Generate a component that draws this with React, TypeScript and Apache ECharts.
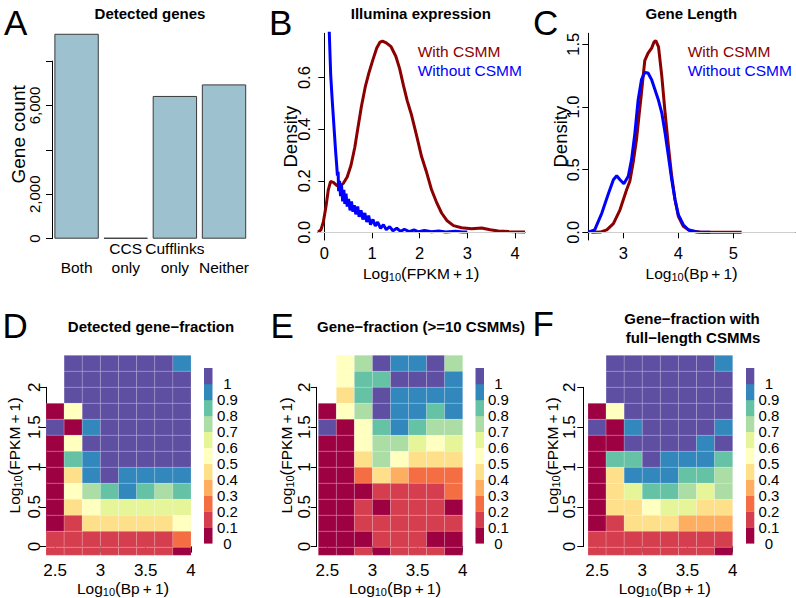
import React, { useEffect, useRef } from "react";
import * as echarts from "echarts";

const FONT = "'Liberation Sans', Arial, Helvetica, sans-serif";
const RED = "#8B0000";
const BLUE = "#0000FF";
const BAR_FILL = "#9DC1CF";
const SPECTRAL = ["#9E0142", "#D53E4F", "#F46D43", "#FDAE61", "#FEE08B", "#FFFFBF", "#E6F598", "#ABDDA4", "#66C2A5", "#3288BD", "#5E4FA2"];

// ---------- Panel A ----------
const A_CATEGORIES = ["Both", "CCS only", "Cufflinks only", "Neither"];
const A_AXIS_LABELS = ["\nBoth", "CCS\nonly", "Cufflinks\nonly", "\nNeither"];
const A_GENE_COUNTS = [9230, 40, 6430, 6950];
const A_Y_TICK_LABELS: Record<string, string> = { "0": "0", "2000": "2,000", "6000": "6,000" };

// ---------- Panel B (density of log10(FPKM+1)) ----------
const B_WITH_CSMM: [number, number][] = [
  [-0.13, 0.001], [-0.07, 0.01], [-0.02, 0.04], [0.035, 0.1], [0.084, 0.165], [0.13, 0.197], [0.19, 0.194],
  [0.26, 0.182], [0.33, 0.18], [0.4, 0.19], [0.48, 0.215], [0.56, 0.26], [0.64, 0.33], [0.7, 0.4], [0.78, 0.49],
  [0.86, 0.565], [0.93, 0.615], [1.02, 0.67], [1.1, 0.715], [1.17, 0.738], [1.22, 0.742], [1.3, 0.735],
  [1.4, 0.72], [1.5, 0.683], [1.58, 0.635], [1.66, 0.57], [1.74, 0.51], [1.83, 0.455], [1.94, 0.372],
  [2.04, 0.294], [2.15, 0.23], [2.25, 0.165], [2.36, 0.114], [2.46, 0.075], [2.57, 0.046], [2.71, 0.026],
  [2.88, 0.018], [3.09, 0.014], [3.3, 0.017], [3.48, 0.01], [3.65, 0.005], [3.86, 0.003], [4.21, 0.001],
];
const B_WITHOUT_CSMM: [number, number][] = [
  [0.1, 0.8], [0.134, 0.61], [0.168, 0.507], [0.21, 0.39], [0.235, 0.32], [0.26, 0.26], [0.275, 0.22],
  [0.29, 0.235], [0.3, 0.16], [0.32, 0.2], [0.34, 0.14], [0.36, 0.185], [0.385, 0.12], [0.41, 0.165],
  [0.43, 0.11], [0.455, 0.15], [0.48, 0.1], [0.51, 0.13], [0.54, 0.085], [0.57, 0.12], [0.6, 0.08],
  [0.63, 0.105], [0.66, 0.07], [0.7, 0.1], [0.73, 0.06], [0.77, 0.085], [0.81, 0.05], [0.85, 0.075],
  [0.89, 0.04], [0.93, 0.065], [0.97, 0.03], [1.02, 0.05], [1.07, 0.025], [1.12, 0.04], [1.18, 0.015],
  [1.24, 0.03], [1.3, 0.01], [1.37, 0.022], [1.44, 0.006], [1.52, 0.016], [1.6, 0.004], [1.68, 0.012],
  [1.78, 0.003], [1.88, 0.009], [1.98, 0.002], [2.1, 0.007], [2.25, 0.002], [2.4, 0.005], [2.55, 0.001],
  [2.75, 0.004], [2.9, 0.001], [3.0, 0.001],
];

// ---------- Panel C (density of log10(Bp+1)) ----------
const C_WITH_CSMM: [number, number][] = [
  [2.42, 0], [2.58, 0.002], [2.7, 0.02], [2.82, 0.07], [2.94, 0.18], [3.06, 0.34], [3.12, 0.41], [3.18, 0.56],
  [3.24, 0.74], [3.29, 0.95], [3.33, 1.11], [3.39, 1.37], [3.45, 1.43], [3.515, 1.47], [3.56, 1.52],
  [3.59, 1.53], [3.64, 1.48], [3.7, 1.245], [3.76, 0.95], [3.82, 0.686], [3.88, 0.447], [3.94, 0.26],
  [4.0, 0.128], [4.09, 0.048], [4.21, 0.013], [4.39, 0.002], [4.58, 0], [5.15, 0],
];
const C_WITHOUT_CSMM: [number, number][] = [
  [2.36, 0.002], [2.48, 0.02], [2.61, 0.154], [2.73, 0.31], [2.82, 0.42], [2.88, 0.452], [2.94, 0.42],
  [3.01, 0.388], [3.09, 0.447], [3.15, 0.58], [3.21, 0.79], [3.27, 1.058], [3.33, 1.218], [3.39, 1.276],
  [3.45, 1.271], [3.515, 1.218], [3.576, 1.138], [3.636, 1.058], [3.7, 0.952], [3.76, 0.79], [3.82, 0.606],
  [3.88, 0.42], [3.94, 0.26], [4.0, 0.141], [4.09, 0.061], [4.18, 0.021], [4.33, 0.003], [4.58, 0],
];

// ---------- Panels D/E/F (heatmaps) ----------
const COL_EDGES = [2.4, 2.6, 2.8, 3.0, 3.2, 3.4, 3.6, 3.8, 4.0]; // log10(Bp+1)
const ROW_EDGES = [-0.1, 0, 0.2, 0.4, 0.6, 0.8, 1.0, 1.2, 1.4, 1.6, 1.8, 2.0, 2.2, 2.4]; // log10(FPKM+1)
// rows listed from top (2.2-2.4) to bottom (-0.1-0)
const D_DETECTED: (number | null)[][] = [
  [null, 1, 1, 1, 1, 1, 1, 0.95],
  [null, 1, 1, 1, 1, 1, 1, 1],
  [null, 1, 1, 1, 1, 1, 1, 1],
  [0, 0.55, 1, 1, 1, 1, 1, 1],
  [1, 0, 0.95, 1, 1, 1, 1, 1],
  [0, 0.55, 1, 1, 1, 1, 1, 1],
  [0, 0.85, 0.95, 1, 1, 1, 1, 1],
  [0, 0.45, 0.95, 1, 0.95, 0.95, 0.95, 0.95],
  [0, 0.55, 0.75, 0.85, 0.95, 0.85, 0.75, 0.85],
  [0, 0.45, 0.55, 0.65, 0.65, 0.65, 0.65, 0.65],
  [0, 0.15, 0.45, 0.45, 0.45, 0.45, 0.45, 0.55],
  [0.15, 0.15, 0.15, 0.15, 0.15, 0.15, 0.15, 0.25],
  [0.15, 0.15, 0.15, 0.15, 0.15, 0.15, 0.15, 0.05],
];
const E_TEN_CSMMS: (number | null)[][] = [
  [null, 0.55, 0.75, 1, 0.95, 0.95, 1, 0.75],
  [null, 0.55, 0.85, 0.85, 1, 1, 1, 0.95],
  [null, 0.45, 0.85, 1, 0.95, 0.95, 0.95, 0.95],
  [0, 0.55, 0.75, 1, 0.95, 0.95, 0.85, 0.95],
  [1, 0, 0.55, 0.85, 0.95, 0.85, 0.75, 0.75],
  [0, 0, 0.55, 0.75, 0.75, 0.65, 0.55, 0.65],
  [0, 0, 0.45, 0.75, 0.55, 0.45, 0.45, 0.45],
  [0, 0, 0.25, 0.45, 0.35, 0.25, 0.25, 0.25],
  [0, 0, 0.05, 0.15, 0.15, 0.15, 0.15, 0.25],
  [0, 0, 0.15, 0.05, 0.15, 0.15, 0.15, 0.05],
  [0, 0, 0.15, 0.15, 0.15, 0.15, 0.15, 0.15],
  [0, 0, 0.05, 0.15, 0.15, 0.15, 0.05, 0.05],
  [0, 0, 0.15, 0.05, 0.15, 0.15, 0.15, 0.05],
];
const F_FULL_LENGTH: (number | null)[][] = [
  [null, 1, 1, 1, 1, 1, 1, 0.95],
  [null, 1, 1, 1, 1, 1, 1, 1],
  [null, 1, 1, 1, 1, 1, 1, 1],
  [0, 0.55, 1, 1, 1, 1, 1, 1],
  [1, 0, 0.95, 1, 1, 1, 1, 0.95],
  [0, 0, 1, 1, 1, 1, 0.95, 1],
  [0, 0.85, 0.85, 1, 0.95, 0.95, 0.95, 0.85],
  [0, 0.45, 0.95, 0.95, 0.95, 0.85, 0.85, 0.75],
  [0, 0.45, 0.65, 0.85, 0.85, 0.75, 0.65, 0.75],
  [0, 0.45, 0.45, 0.55, 0.65, 0.65, 0.45, 0.45],
  [0, 0.15, 0.45, 0.45, 0.45, 0.35, 0.35, 0.35],
  [0.15, 0.15, 0.15, 0.15, 0.15, 0.15, 0.15, 0.15],
  [0.15, 0.15, 0.15, 0.15, 0.15, 0.15, 0.15, 0.05],
];
const COLOR_BREAKS = [0, 0.1, 0.2, 0.3, 0.4, 0.5, 0.6, 0.7, 0.8, 0.9, 1.0, 1.1];
const HEAT_X_TICKS = { min: 2.5, max: 4, step: 0.5 };
const HEAT_Y_TICKS = { min: 0, max: 2, step: 0.5 };

type Rect = { l: number; t: number; r: number; b: number };

const colorFor = (v: number) => SPECTRAL[Math.max(0, Math.min(10, Math.floor(v * 10 + 1e-6)))];

const subRect = (rc: Rect, xr: number[], yr: number[], xt: number[], yt: number[]): Rect => {
  const sx = (rc.r - rc.l) / (xr[1] - xr[0]);
  const sy = (rc.b - rc.t) / (yr[1] - yr[0]);
  return {
    l: rc.l + (xt[0] - xr[0]) * sx,
    r: rc.l + (xt[1] - xr[0]) * sx,
    t: rc.b - (yt[1] - yr[0]) * sy,
    b: rc.b - (yt[0] - yr[0]) * sy,
  };
};

const AXLINE = { show: true, lineStyle: { color: "#000", width: 1 } };
const NOLINE = { show: false };
const TICK = { show: true, length: 6, lineStyle: { color: "#000", width: 1 } };
const NOTICK = { show: false };
const NOLABEL = { show: false };
const NOSPLIT = { show: false };
const lab = (size: number, margin: number, extra: any = {}) => ({
  show: true, fontSize: size, fontFamily: FONT, color: "#000", margin, ...extra,
});
const NAME_RICH = {
  m: { fontSize: 15.5, lineHeight: 18, fontFamily: FONT, color: "#000" },
  p: { fontSize: 17, lineHeight: 18, fontFamily: FONT, color: "#000" },
  s: { fontSize: 11, lineHeight: 6, verticalAlign: "bottom", fontFamily: FONT, color: "#000" },
};
const logName = (inner: string) => `{m|Log}{s|10}{p|(}{m|${inner}}{p|)}`;

function buildOption() {
  const grid: any[] = [];
  const xAxis: any[] = [];
  const yAxis: any[] = [];
  const series: any[] = [];
  const graphic: any[] = [];

  const addGrid = (rc: Rect, x: any, y: any) => {
    const i = grid.length;
    grid.push({ left: rc.l, top: rc.t, width: rc.r - rc.l, height: rc.b - rc.t, containLabel: false });
    xAxis.push({ gridIndex: i, splitLine: NOSPLIT, ...x });
    yAxis.push({ gridIndex: i, splitLine: NOSPLIT, ...y });
    return i;
  };

  // ---------------- A ----------------
  {
    const rc: Rect = { l: 52, t: 30, r: 248.6, b: 238.7 };
    const yr = [0, 9400];
    const gi = addGrid(
      rc,
      {
        type: "category", data: A_CATEGORIES, axisLine: NOLINE, axisTick: NOTICK,
        axisLabel: lab(15.5, 0, { interval: 0, lineHeight: 19.5, formatter: (_v: string, i: number) => A_AXIS_LABELS[i] }),
      },
      {
        type: "value", min: yr[0], max: yr[1], axisLine: NOLINE, axisTick: NOTICK, axisLabel: NOLABEL,
        name: "Gene count", nameLocation: "middle", nameGap: 24.5,
        nameTextStyle: { fontSize: 19, fontFamily: FONT, color: "#000", lineHeight: 19 },
      }
    );
    series.push({
      type: "bar", xAxisIndex: gi, yAxisIndex: gi, data: A_GENE_COUNTS, barCategoryGap: "9.7%",
      itemStyle: { color: BAR_FILL, borderColor: "#3a3a3a", borderWidth: 1 },
    });
    const ax = subRect(rc, [0, 1], yr, [0, 1], [0, 8000]);
    addGrid(
      ax,
      { type: "value", min: 0, max: 1, show: false },
      {
        type: "value", min: 0, max: 8000, interval: 2000, offset: 6, axisLine: AXLINE, axisTick: TICK,
        axisLabel: lab(15, 4.5, { rotate: 90, formatter: (v: number) => A_Y_TICK_LABELS[String(v)] ?? "" }),
      }
    );
  }

  // ---------------- density panels ----------------
  const densityPanel = (
    rc: Rect, xr: number[], yr: number[], xt: { min: number; max: number; step: number },
    yt: { min: number; max: number; step: number }, withData: [number, number][], withoutData: [number, number][],
    yLabelMargin: number, yNameGap: number, xName: string
  ) => {
    const gi = addGrid(
      rc,
      {
        type: "value", min: xr[0], max: xr[1], axisLine: AXLINE, axisTick: NOTICK, axisLabel: NOLABEL,
        name: logName(xName), nameLocation: "middle", nameGap: 24,
        nameTextStyle: { rich: NAME_RICH },
      },
      {
        type: "value", min: yr[0], max: yr[1], axisLine: AXLINE, axisTick: NOTICK, axisLabel: NOLABEL,
        name: "Density", nameLocation: "middle", nameGap: yNameGap,
        nameTextStyle: { fontSize: 18.5, fontFamily: FONT, color: "#000", lineHeight: 18 },
      }
    );
    series.push({
      type: "line", name: "With CSMM", xAxisIndex: gi, yAxisIndex: gi, data: withData, showSymbol: false,
      symbol: "none", lineStyle: { color: RED, width: 3 }, itemStyle: { color: RED }, z: 3,
      markLine: {
        silent: true, symbol: ["none", "none"], label: { show: false },
        lineStyle: { color: "#cfcfcf", width: 1, type: "solid" }, data: [{ yAxis: 0 }],
      },
    });
    series.push({
      type: "line", name: "Without CSMM", xAxisIndex: gi, yAxisIndex: gi, data: withoutData, showSymbol: false,
      symbol: "none", lineStyle: { color: BLUE, width: 3 }, itemStyle: { color: BLUE }, z: 4,
    });
    const ax = subRect(rc, xr, yr, [xt.min, xt.max], [yt.min, yt.max]);
    addGrid(
      ax,
      {
        type: "value", min: xt.min, max: xt.max, interval: xt.step, offset: rc.b - ax.b,
        axisLine: NOLINE, axisTick: TICK, axisLabel: lab(16.5, 4.5),
      },
      {
        type: "value", min: yt.min, max: yt.max, interval: yt.step, offset: ax.l - rc.l,
        axisLine: NOLINE, axisTick: TICK,
        axisLabel: lab(16.5, yLabelMargin, { rotate: 90, formatter: (v: number) => v.toFixed(1) }),
      }
    );
  };

  densityPanel(
    { l: 317.3, t: 33.3, r: 525, b: 240 }, [-0.147, 4.21], [-0.0297, 0.772],
    { min: 0, max: 4, step: 1 }, { min: 0, max: 0.6, step: 0.2 },
    B_WITH_CSMM, B_WITHOUT_CSMM, 4.5, 18, "FPKM\u2009+\u20091"
  );
  densityPanel(
    { l: 588.3, t: 33.3, r: 795, b: 240 }, [2.364, 6.12], [-0.061, 1.588],
    { min: 3, max: 5, step: 1 }, { min: 0, max: 1.5, step: 0.5 },
    C_WITH_CSMM, C_WITHOUT_CSMM, 6.5, 19, "Bp\u2009+\u20091"
  );

  // ---------------- heatmap panels ----------------
  const heatPanel = (
    rc: Rect, axisLineX: number, matrix: (number | null)[][], yLabelMargin: number, yNameGap: number,
    cb: { l: number; r: number; t: number; b: number; labelMargin: number }
  ) => {
    const xr = [COL_EDGES[0], COL_EDGES[COL_EDGES.length - 1]];
    const yr = [ROW_EDGES[0], ROW_EDGES[ROW_EDGES.length - 1]];
    const gi = addGrid(
      rc,
      { type: "value", min: xr[0], max: xr[1], show: false },
      {
        type: "value", min: yr[0], max: yr[1], axisLine: NOLINE, axisTick: NOTICK, axisLabel: NOLABEL,
        name: logName("FPKM\u2009+\u20091"), nameLocation: "middle", nameGap: yNameGap, nameTextStyle: { rich: NAME_RICH },
      }
    );
    const cells: any[] = [];
    const n = matrix.length;
    matrix.forEach((row, i) => {
      const r = n - 1 - i;
      row.forEach((v, c) => {
        if (v !== null) cells.push([COL_EDGES[c], COL_EDGES[c + 1], ROW_EDGES[r], ROW_EDGES[r + 1], v]);
      });
    });
    series.push({
      type: "custom", xAxisIndex: gi, yAxisIndex: gi, data: cells,
      dimensions: ["x0", "x1", "y0", "y1", "v"], encode: { x: [0, 1], y: [2, 3] },
      renderItem: (_p: any, api: any) => {
        const p0 = api.coord([api.value(0), api.value(3)]);
        const p1 = api.coord([api.value(1), api.value(2)]);
        return {
          type: "rect",
          shape: { x: p0[0], y: p0[1], width: p1[0] - p0[0], height: p1[1] - p0[1] },
          style: { fill: colorFor(api.value(4)), stroke: "rgba(255,255,255,0.3)", lineWidth: 0.5 },
        };
      },
    });
    const ax = subRect(rc, xr, yr, [HEAT_X_TICKS.min, HEAT_X_TICKS.max], [HEAT_Y_TICKS.min, HEAT_Y_TICKS.max]);
    addGrid(
      ax,
      {
        type: "value", min: HEAT_X_TICKS.min, max: HEAT_X_TICKS.max, interval: HEAT_X_TICKS.step,
        offset: rc.b - ax.b, axisLine: AXLINE, axisTick: TICK, axisLabel: lab(17, 7),
        name: logName("Bp\u2009+\u20091"), nameLocation: "middle", nameGap: 22.4, nameTextStyle: { rich: NAME_RICH },
      },
      {
        type: "value", min: HEAT_Y_TICKS.min, max: HEAT_Y_TICKS.max, interval: HEAT_Y_TICKS.step,
        offset: ax.l - axisLineX, axisLine: AXLINE, axisTick: TICK,
        axisLabel: lab(17, yLabelMargin, { rotate: 90 }),
      }
    );
    // colour key
    const cbi = addGrid(
      cb,
      { type: "value", min: 0, max: 1, show: false },
      {
        type: "value", position: "right", min: COLOR_BREAKS[0], max: COLOR_BREAKS[COLOR_BREAKS.length - 1],
        interval: 0.1, axisLine: NOLINE, axisTick: NOTICK,
        axisLabel: lab(15, cb.labelMargin, {
          align: "center",
          formatter: (v: number) => (v > 1.05 ? "" : String(Number(v.toFixed(1)))),
        }),
      }
    );
    const keyCells = COLOR_BREAKS.slice(0, -1).map((b, i) => [0, 1, b, COLOR_BREAKS[i + 1], b]);
    series.push({
      type: "custom", xAxisIndex: cbi, yAxisIndex: cbi, data: keyCells,
      dimensions: ["x0", "x1", "y0", "y1", "v"], encode: { x: [0, 1], y: [2, 3] },
      renderItem: (_p: any, api: any) => {
        const p0 = api.coord([api.value(0), api.value(3)]);
        const p1 = api.coord([api.value(1), api.value(2)]);
        return {
          type: "rect",
          shape: { x: p0[0], y: p0[1], width: p1[0] - p0[0], height: p1[1] - p0[1] + 0.3 },
          style: { fill: colorFor(api.value(4)) },
        };
      },
    });
  };

  const HT = 355.3, HB = 555.3, CBT = 368, CBB = 543.3;
  heatPanel({ l: 46, t: HT, r: 191, b: HB }, 46, D_DETECTED, 3.5, 22.5,
    { l: 204, r: 212.5, t: CBT, b: CBB, labelMargin: 15 });
  heatPanel({ l: 318.3, t: HT, r: 462.7, b: HB }, 316.7, E_TEN_CSMMS, 3.5, 23,
    { l: 475.5, r: 484, t: CBT, b: CBB, labelMargin: 14.3 });
  heatPanel({ l: 588, t: HT, r: 732.7, b: HB }, 583.3, F_FULL_LENGTH, 5, 27,
    { l: 746, r: 754.3, t: CBT, b: CBB, labelMargin: 14.7 });

  // ---------------- titles & panel letters ----------------
  const txt = (x: number, y: number, text: string, font: string, align = "center") => ({
    type: "text", x, y, silent: true,
    style: {
      text, font, fill: "#000", textAlign: align, align, textVerticalAlign: "middle", verticalAlign: "middle",
    },
  });
  const TF = `bold 15px ${FONT}`;
  graphic.push(txt(150, 13.7, "Detected genes", TF));
  graphic.push(txt(420.8, 13.7, "Illumina expression", TF));
  graphic.push(txt(691.3, 13.7, "Gene Length", TF));
  graphic.push(txt(151, 326.7, "Detected gene\u2212fraction", TF));
  graphic.push(txt(421, 326.7, "Gene\u2212fraction (>=10 CSMMs)", TF));
  graphic.push(txt(692, 318.3, "Gene\u2212fraction with", TF));
  graphic.push(txt(693, 337.3, "full\u2212length CSMMs", TF));
  const LF = `35px ${FONT}`;
  graphic.push(txt(4, 22, "A", LF, "left"));
  graphic.push(txt(269, 22, "B", LF, "left"));
  graphic.push(txt(533, 22, "C", LF, "left"));
  graphic.push(txt(2.5, 325, "D", LF, "left"));
  graphic.push(txt(270.5, 325, "E", LF, "left"));
  graphic.push(txt(532.5, 323, "F", LF, "left"));

  const legendFor = (left: number, top: number) => ({
    left, top, orient: "vertical", padding: 0, itemGap: 0, itemWidth: 0, itemHeight: 0, selectedMode: false,
    textStyle: { fontSize: 15.5, fontFamily: FONT, lineHeight: 19.3 },
    data: [
      { name: "With CSMM", textStyle: { color: RED } },
      { name: "Without CSMM", textStyle: { color: BLUE } },
    ],
  });

  return {
    animation: false,
    backgroundColor: "#fff",
    textStyle: { fontFamily: FONT },
    grid, xAxis, yAxis, series, graphic,
    legend: [legendFor(411.7, 42), legendFor(681.7, 42)],
  };
}

export default function App() {
  const ref = useRef<HTMLDivElement>(null);
  useEffect(() => {
    document.body.style.margin = "0";
    if (!ref.current) return;
    const chart = echarts.init(ref.current, undefined, { renderer: "svg" });
    chart.setOption(buildOption() as any);
    return () => chart.dispose();
  }, []);
  return <div ref={ref} style={{ width: 796, height: 598 }} />;
}
